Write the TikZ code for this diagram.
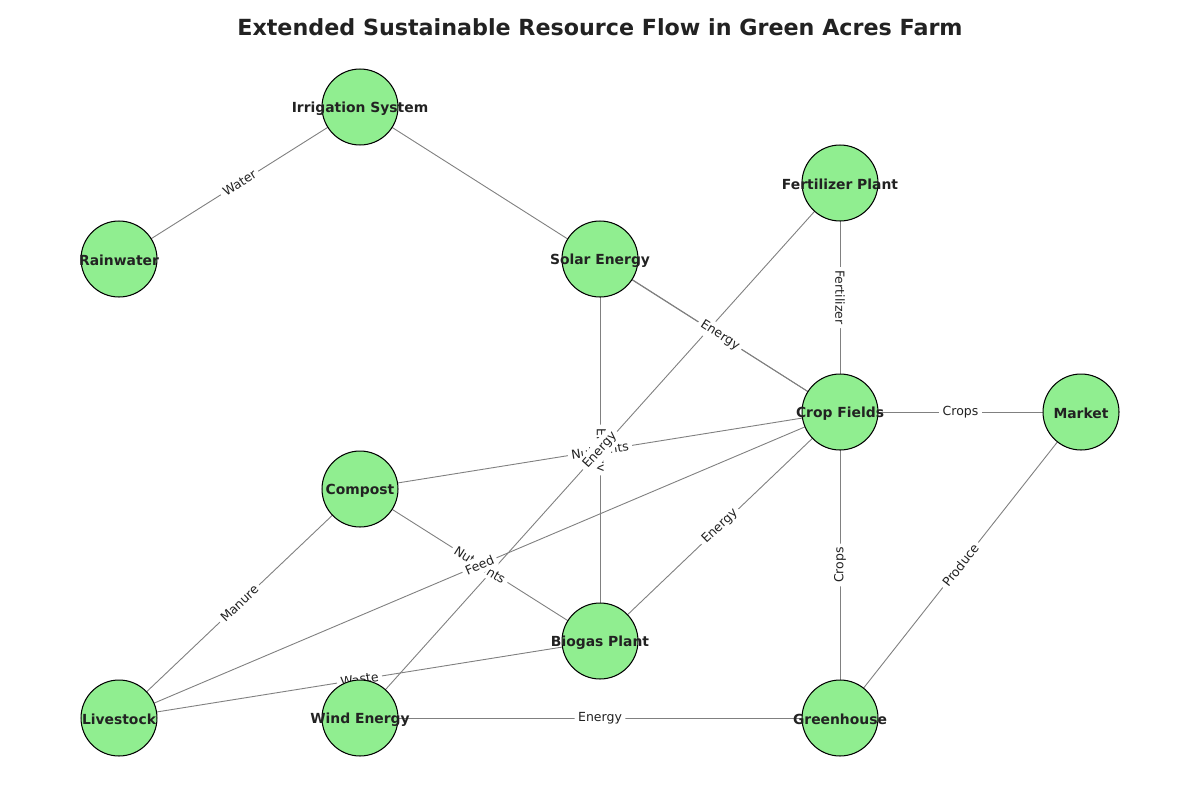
\documentclass[tikz,border=0pt]{standalone}
\usepackage{fontspec}
\setmainfont{DejaVu Sans}
\pgfdeclarelayer{bg}
\pgfdeclarelayer{lab}
\pgfsetlayers{bg,lab,main}
\definecolor{lgreen}{HTML}{90EE90}
\definecolor{egray}{HTML}{808080}
\definecolor{tdark}{HTML}{222222}
\tikzset{
  fnode/.style={circle, draw=black, line width=0.75pt, fill=lgreen, minimum size=54.7pt, inner sep=0pt},
  ftext/.style={font=\fontsize{10}{12}\selectfont\bfseries, text=tdark, inner sep=0pt, yshift=-1.2pt},
  edge/.style={draw=egray, line width=0.65pt},
  elabel/.style={font=\fontsize{9}{11}\selectfont, text=tdark, fill=white, rounded corners=2pt, inner sep=2.5pt, sloped, pos=0.5},
}
\begin{document}
\begin{tikzpicture}[x=0.72pt,y=-0.72pt]
\useasboundingbox (0,0) rectangle (1200,800);
\node[font=\fontsize{16}{19}\selectfont\bfseries, text=tdark] (title) at (600,27) {Extended Sustainable Resource Flow in Green Acres Farm};

\node[fnode] (irr) at (360,107) {};
\node[fnode] (rain) at (119,259) {};
\node[fnode] (solar) at (600,259) {};
\node[fnode] (fert) at (840,183) {};
\node[fnode] (crop) at (840,412) {};
\node[fnode] (market) at (1081,412) {};
\node[fnode] (compost) at (360,489) {};
\node[fnode] (bio) at (600,641) {};
\node[fnode] (live) at (119,718) {};
\node[fnode] (wind) at (360,718) {};
\node[fnode] (green) at (840,718) {};

\node[ftext] (irr-t) at (irr) {Irrigation System};
\node[ftext] (rain-t) at (rain) {Rainwater};
\node[ftext] (solar-t) at (solar) {Solar Energy};
\node[ftext] (fert-t) at (fert) {Fertilizer Plant};
\node[ftext] (crop-t) at (crop) {Crop Fields};
\node[ftext] (market-t) at (market) {Market};
\node[ftext] (compost-t) at (compost) {Compost};
\node[ftext] (bio-t) at (bio) {Biogas Plant};
\node[ftext] (live-t) at (live) {Livestock};
\node[ftext] (wind-t) at (wind) {Wind Energy};
\node[ftext] (green-t) at (green) {Greenhouse};

\begin{pgfonlayer}{bg}
\draw[edge] (rain.center) -- (irr.center);
\draw[edge] (irr.center) -- (crop.center);
\draw[edge] (solar.center) -- (crop.center);
\draw[edge] (fert.center) -- (crop.center);
\draw[edge] (crop.center) -- (market.center);
\draw[edge] (green.center) -- (crop.center);
\draw[edge] (green.center) -- (market.center);
\draw[edge] (wind.center) -- (green.center);
\draw[edge] (bio.center) -- (crop.center);
\draw[edge] (solar.center) -- (bio.center);
\draw[edge] (compost.center) -- (crop.center);
\draw[edge] (wind.center) -- (fert.center);
\draw[edge] (compost.center) -- (bio.center);
\draw[edge] (live.center) -- (crop.center);
\draw[edge] (live.center) -- (compost.center);
\draw[edge] (live.center) -- (bio.center);
\end{pgfonlayer}

\begin{pgfonlayer}{lab}
\path (rain.center) -- node[elabel] (l1) {Water} (irr.center);
\path (solar.center) -- node[elabel] (l3) {Energy} (crop.center);
\path (fert.center) -- node[elabel] (l4) {Fertilizer} (crop.center);
\path (crop.center) -- node[elabel] (l5) {Crops} (market.center);
\path (green.center) -- node[elabel] (l6) {Crops} (crop.center);
\path (green.center) -- node[elabel] (l7) {Produce} (market.center);
\path (wind.center) -- node[elabel] (l8) {Energy} (green.center);
\path (bio.center) -- node[elabel] (l9) {Energy} (crop.center);
\path (solar.center) -- node[elabel] (l10) {Energy} (bio.center);
\path (compost.center) -- node[elabel] (l11) {Nutrients} (crop.center);
\path (wind.center) -- node[elabel] (l12) {Energy} (fert.center);
\path (compost.center) -- node[elabel] (l13) {Nutrients} (bio.center);
\path (live.center) -- node[elabel] (l14) {Feed} (crop.center);
\path (live.center) -- node[elabel] (l15) {Manure} (compost.center);
\path (live.center) -- node[elabel] (l16) {Waste} (bio.center);
\end{pgfonlayer}
\end{tikzpicture}
\end{document}
